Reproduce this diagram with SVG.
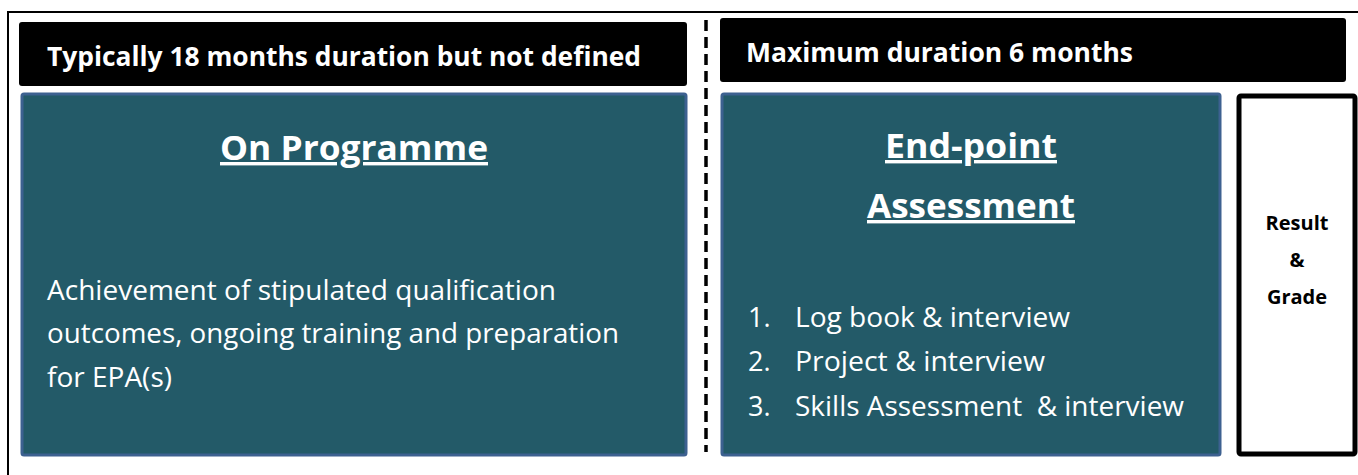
<svg xmlns="http://www.w3.org/2000/svg" width="1358" height="475" viewBox="0 0 1358 475">
<defs>
<style>
.hdr{fill:#000;}
.hdrt{fill:#fff;font-family:"Open Sans","Liberation Sans",sans-serif;font-weight:bold;font-size:26px;}
.teal{fill:#235a68;stroke:#3d6190;stroke-width:3;}
.title{fill:#fff;font-family:"Open Sans","Liberation Sans",sans-serif;font-weight:bold;font-size:34px;text-decoration:underline;text-anchor:middle;}
.body{fill:#fff;font-family:"Open Sans","Liberation Sans",sans-serif;font-size:27px;}
.res{fill:#000;font-family:"Open Sans","Liberation Sans",sans-serif;font-weight:bold;font-size:20px;text-anchor:middle;}
</style>
</defs>
<rect width="1358" height="475" fill="#fff"/>
<g id="frame">
<path d="M8 475 V12 H1358" fill="none" stroke="#000" stroke-width="2"/>
</g>
<g id="connectors">
<line x1="706" y1="20" x2="706" y2="452" stroke="#000" stroke-width="3.5" stroke-dasharray="11,6"/>
</g>
<g id="header-left">
<rect class="hdr" x="19" y="22" width="668" height="64" rx="3"/>
<text class="hdrt" x="47" y="66" textLength="594" lengthAdjust="spacingAndGlyphs">Typically 18 months duration but not defined</text>
</g>
<g id="header-right">
<rect class="hdr" x="720" y="18" width="626" height="64" rx="3"/>
<text class="hdrt" x="746" y="62" textLength="387" lengthAdjust="spacingAndGlyphs">Maximum duration 6 months</text>
</g>
<g id="on-programme">
<rect class="teal" x="22" y="94" width="664" height="361" rx="2"/>
<text class="title" x="354" y="160" textLength="268" lengthAdjust="spacingAndGlyphs">On Programme</text>
<text class="body" x="47" y="300" textLength="509" lengthAdjust="spacingAndGlyphs">Achievement of stipulated qualification</text>
<text class="body" x="47" y="343" textLength="572" lengthAdjust="spacingAndGlyphs">outcomes, ongoing training and preparation</text>
<text class="body" x="47" y="387" textLength="125" lengthAdjust="spacingAndGlyphs">for EPA(s)</text>
</g>
<g id="end-point">
<rect class="teal" x="722" y="94" width="498" height="361" rx="2"/>
<text class="title" x="971" y="158" textLength="172" lengthAdjust="spacingAndGlyphs">End-point</text>
<text class="title" x="971" y="218" textLength="208" lengthAdjust="spacingAndGlyphs">Assessment</text>
<text class="body" x="748" y="327">1.</text>
<text class="body" x="795" y="327" textLength="275" lengthAdjust="spacingAndGlyphs">Log book &amp; interview</text>
<text class="body" x="748" y="371">2.</text>
<text class="body" x="795" y="371" textLength="250" lengthAdjust="spacingAndGlyphs">Project &amp; interview</text>
<text class="body" x="748" y="416">3.</text>
<text class="body" x="795" y="416" textLength="389" lengthAdjust="spacingAndGlyphs" xml:space="preserve">Skills Assessment  &amp; interview</text>
</g>
<g id="result">
<rect x="1239" y="96" width="116" height="358" fill="#fff" stroke="#000" stroke-width="5" rx="2"/>
<text class="res" x="1297" y="230">Result</text>
<text class="res" x="1297" y="267">&amp;</text>
<text class="res" x="1297" y="304">Grade</text>
</g>
</svg>
